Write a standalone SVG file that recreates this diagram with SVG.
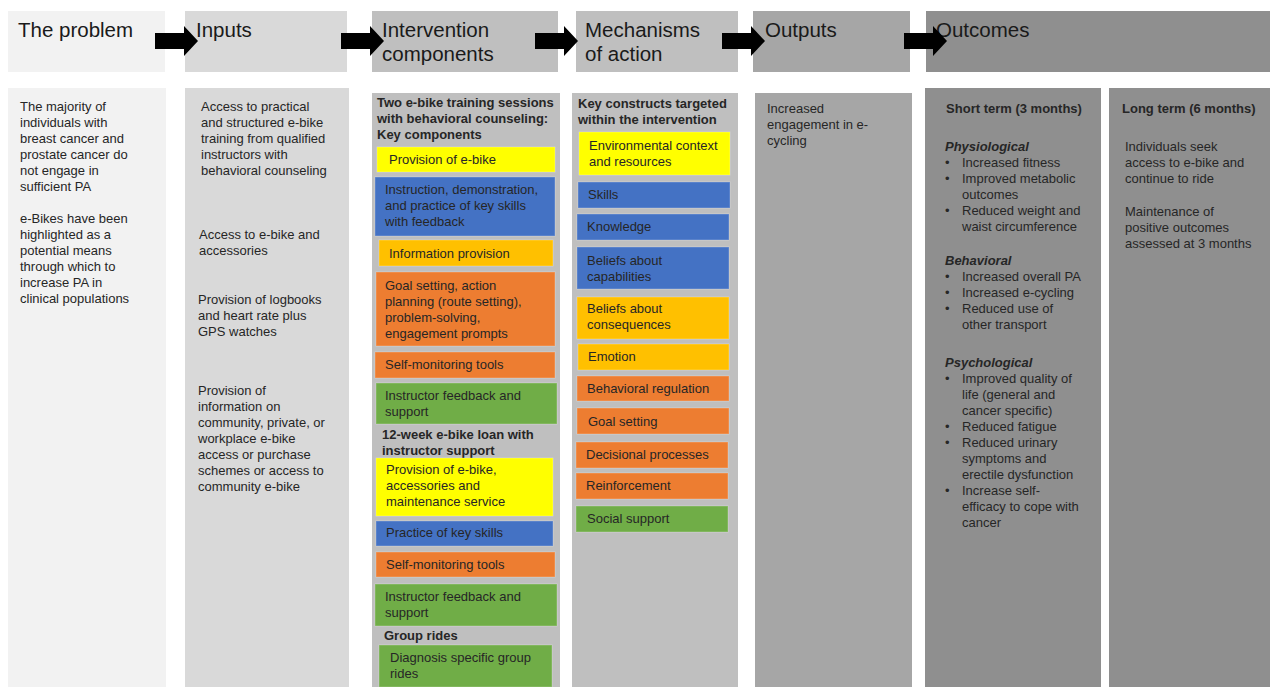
<svg xmlns="http://www.w3.org/2000/svg" width="1270" height="687" viewBox="0 0 1270 687">
<style>
text{font-family:"Liberation Sans",Arial,Helvetica,sans-serif;font-size:13px;fill:#262626}
.h{font-size:20.5px;fill:#1a1a1a}
.b{font-weight:bold}
.bi{font-weight:bold;font-style:italic}
.y{fill:#ffff00}.bl{fill:#4472c4}.am{fill:#ffc000}.or{fill:#ed7d31}.gr{fill:#70ad47}
.bx{stroke:#ffffff;stroke-opacity:0.25;stroke-width:1}
</style>
<defs>
<path id="arr" d="M0,-8 H29 V-15 L43,0 L29,15 V8 H0 Z" fill="#000"/>
</defs>
<rect width="1270" height="687" fill="#ffffff"/>

<!-- headers -->
<g id="h-problem"><rect x="8" y="11" width="157" height="61" fill="#f2f2f2"/><text class="h" x="18" y="37">The problem</text></g>
<g id="h-inputs"><rect x="185" y="11" width="162" height="61" fill="#d9d9d9"/><text class="h" x="196" y="37">Inputs</text></g>
<g id="h-intervention"><rect x="372" y="11" width="186" height="61" fill="#bfbfbf"/><text class="h" x="382" y="37">Intervention<tspan x="382" dy="24">components</tspan></text></g>
<g id="h-mechanisms"><rect x="576" y="11" width="162" height="61" fill="#bfbfbf"/><text class="h" x="585" y="37">Mechanisms<tspan x="585" dy="24">of action</tspan></text></g>
<g id="h-outputs"><rect x="753" y="11" width="157" height="61" fill="#a6a6a6"/><text class="h" x="765" y="37">Outputs</text></g>
<g id="h-outcomes"><rect x="926" y="11" width="344" height="61" fill="#8f8f8f"/><text class="h" x="936" y="37">Outcomes</text></g>

<!-- connectors -->
<g id="connectors">
<use href="#arr" x="155" y="41"/>
<use href="#arr" x="341" y="41"/>
<use href="#arr" x="535" y="41"/>
<use href="#arr" x="722" y="41"/>
<use href="#arr" x="904" y="41"/>
</g>

<!-- problem column -->
<g id="problem">
<rect x="8" y="88" width="158" height="599" fill="#f2f2f2"/>
<text x="20" y="111">The majority of<tspan x="20" dy="16">individuals with</tspan><tspan x="20" dy="16">breast cancer and</tspan><tspan x="20" dy="16">prostate cancer do</tspan><tspan x="20" dy="16">not engage in</tspan><tspan x="20" dy="16">sufficient PA</tspan><tspan x="20" dy="32">e-Bikes have been</tspan><tspan x="20" dy="16">highlighted as a</tspan><tspan x="20" dy="16">potential means</tspan><tspan x="20" dy="16">through which to</tspan><tspan x="20" dy="16">increase PA in</tspan><tspan x="20" dy="16">clinical populations</tspan></text>
</g>

<!-- inputs column -->
<g id="inputs">
<rect x="185" y="88" width="164" height="599" fill="#d9d9d9"/>
<text x="201" y="111">Access to practical<tspan x="201" dy="16">and structured e-bike</tspan><tspan x="201" dy="16">training from qualified</tspan><tspan x="201" dy="16">instructors with</tspan><tspan x="201" dy="16">behavioral counseling</tspan></text>
<text x="199" y="239">Access to e-bike and<tspan x="199" dy="16">accessories</tspan></text>
<text x="198" y="304">Provision of logbooks<tspan x="198" dy="16">and heart rate plus</tspan><tspan x="198" dy="16">GPS watches</tspan></text>
<text x="198" y="395">Provision of<tspan x="198" dy="16">information on</tspan><tspan x="198" dy="16">community, private, or</tspan><tspan x="198" dy="16">workplace e-bike</tspan><tspan x="198" dy="16">access or purchase</tspan><tspan x="198" dy="16">schemes or access to</tspan><tspan x="198" dy="16">community e-bike</tspan></text>
</g>

<!-- intervention column -->
<g id="intervention">
<rect x="372" y="93" width="188" height="594" fill="#bfbfbf"/>
<text class="b" x="377" y="107">Two e-bike training sessions<tspan x="377" dy="16">with behavioral counseling:</tspan><tspan x="377" dy="16">Key components</tspan></text>
<g id="i1"><rect class="y bx" x="377" y="147" width="178" height="25"/><text x="389" y="164">Provision of e-bike</text></g>
<g id="i2"><rect class="bl bx" x="375" y="177" width="180" height="59"/><text x="385" y="194">Instruction, demonstration,<tspan x="385" dy="16">and practice of key skills</tspan><tspan x="385" dy="16">with feedback</tspan></text></g>
<g id="i3"><rect class="am bx" x="379" y="240" width="174" height="26"/><text x="389" y="258">Information provision</text></g>
<g id="i4"><rect class="or bx" x="376" y="272" width="179" height="74"/><text x="385" y="290">Goal setting, action<tspan x="385" dy="16">planning (route setting),</tspan><tspan x="385" dy="16">problem-solving,</tspan><tspan x="385" dy="16">engagement prompts</tspan></text></g>
<g id="i5"><rect class="or bx" x="375" y="352" width="180" height="26"/><text x="385" y="369">Self-monitoring tools</text></g>
<g id="i6"><rect class="gr bx" x="376" y="383" width="181" height="41"/><text x="385" y="400">Instructor feedback and<tspan x="385" dy="16">support</tspan></text></g>
<text class="b" x="382" y="439">12-week e-bike loan with<tspan x="382" dy="16">instructor support</tspan></text>
<g id="i7"><rect class="y bx" x="376" y="458" width="177" height="58"/><text x="386" y="474">Provision of e-bike,<tspan x="386" dy="16">accessories and</tspan><tspan x="386" dy="16">maintenance service</tspan></text></g>
<g id="i8"><rect class="bl bx" x="376" y="521" width="177" height="25"/><text x="386" y="537">Practice of key skills</text></g>
<g id="i9"><rect class="or bx" x="376" y="552" width="179" height="25"/><text x="386" y="569">Self-monitoring tools</text></g>
<g id="i10"><rect class="gr bx" x="375" y="584" width="182" height="42"/><text x="385" y="601">Instructor feedback and<tspan x="385" dy="16">support</tspan></text></g>
<text class="b" x="384" y="640">Group rides</text>
<g id="i11"><rect class="gr bx" x="379" y="645" width="173" height="42"/><text x="390" y="662">Diagnosis specific group<tspan x="390" dy="16">rides</tspan></text></g>
</g>

<!-- mechanisms column -->
<g id="mechanisms">
<rect x="572" y="93" width="166" height="594" fill="#bfbfbf"/>
<text class="b" x="578" y="108">Key constructs targeted<tspan x="578" dy="16">within the intervention</tspan></text>
<g id="m1"><rect class="y bx" x="579" y="132" width="151" height="43"/><text x="589" y="150">Environmental context<tspan x="589" dy="16">and resources</tspan></text></g>
<g id="m2"><rect class="bl bx" x="578" y="182" width="152" height="26"/><text x="588" y="199">Skills</text></g>
<g id="m3"><rect class="bl bx" x="577" y="214" width="152" height="26"/><text x="587" y="231">Knowledge</text></g>
<g id="m4"><rect class="bl bx" x="577" y="247" width="152" height="42"/><text x="587" y="265">Beliefs about<tspan x="587" dy="16">capabilities</tspan></text></g>
<g id="m5"><rect class="am bx" x="577" y="297" width="152" height="42"/><text x="587" y="313">Beliefs about<tspan x="587" dy="16">consequences</tspan></text></g>
<g id="m6"><rect class="am bx" x="578" y="344" width="151" height="26"/><text x="588" y="361">Emotion</text></g>
<g id="m7"><rect class="or bx" x="577" y="376" width="152" height="25"/><text x="587" y="393">Behavioral regulation</text></g>
<g id="m8"><rect class="or bx" x="577" y="408" width="152" height="26"/><text x="588" y="426">Goal setting</text></g>
<g id="m9"><rect class="or bx" x="576" y="442" width="152" height="26"/><text x="586" y="459">Decisional processes</text></g>
<g id="m10"><rect class="or bx" x="576" y="473" width="152" height="26"/><text x="586" y="490">Reinforcement</text></g>
<g id="m11"><rect class="gr bx" x="576" y="506" width="152" height="26"/><text x="587" y="523">Social support</text></g>
</g>

<!-- outputs column -->
<g id="outputs">
<rect x="755" y="93" width="157" height="594" fill="#a6a6a6"/>
<text x="767" y="113">Increased<tspan x="767" dy="16">engagement in e-</tspan><tspan x="767" dy="16">cycling</tspan></text>
</g>

<!-- short term -->
<g id="short-term">
<rect x="925" y="88" width="176" height="599" fill="#8f8f8f"/>
<text class="b" x="1014" y="113" text-anchor="middle">Short term (3 months)</text>
<text class="bi" x="945" y="151">Physiological</text>
<text x="945" y="167"><tspan x="945">•</tspan><tspan x="962">Increased fitness</tspan><tspan x="945" dy="16">•</tspan><tspan x="962">Improved metabolic</tspan><tspan x="962" dy="16">outcomes</tspan><tspan x="945" dy="16">•</tspan><tspan x="962">Reduced weight and</tspan><tspan x="962" dy="16">waist circumference</tspan></text>
<text class="bi" x="945" y="265">Behavioral</text>
<text x="945" y="281"><tspan x="945">•</tspan><tspan x="962">Increased overall PA</tspan><tspan x="945" dy="16">•</tspan><tspan x="962">Increased e-cycling</tspan><tspan x="945" dy="16">•</tspan><tspan x="962">Reduced use of</tspan><tspan x="962" dy="16">other transport</tspan></text>
<text class="bi" x="945" y="367">Psychological</text>
<text x="945" y="383"><tspan x="945">•</tspan><tspan x="962">Improved quality of</tspan><tspan x="962" dy="16">life (general and</tspan><tspan x="962" dy="16">cancer specific)</tspan><tspan x="945" dy="16">•</tspan><tspan x="962">Reduced fatigue</tspan><tspan x="945" dy="16">•</tspan><tspan x="962">Reduced urinary</tspan><tspan x="962" dy="16">symptoms and</tspan><tspan x="962" dy="16">erectile dysfunction</tspan><tspan x="945" dy="16">•</tspan><tspan x="962">Increase self-</tspan><tspan x="962" dy="16">efficacy to cope with</tspan><tspan x="962" dy="16">cancer</tspan></text>
</g>

<!-- long term -->
<g id="long-term">
<rect x="1109" y="88" width="161" height="599" fill="#8f8f8f"/>
<text class="b" x="1122" y="113">Long term (6 months)</text>
<text x="1125" y="151">Individuals seek<tspan x="1125" dy="16">access to e-bike and</tspan><tspan x="1125" dy="16">continue to ride</tspan><tspan x="1125" dy="33">Maintenance of</tspan><tspan x="1125" dy="16">positive outcomes</tspan><tspan x="1125" dy="16">assessed at 3 months</tspan></text>
</g>
</svg>
